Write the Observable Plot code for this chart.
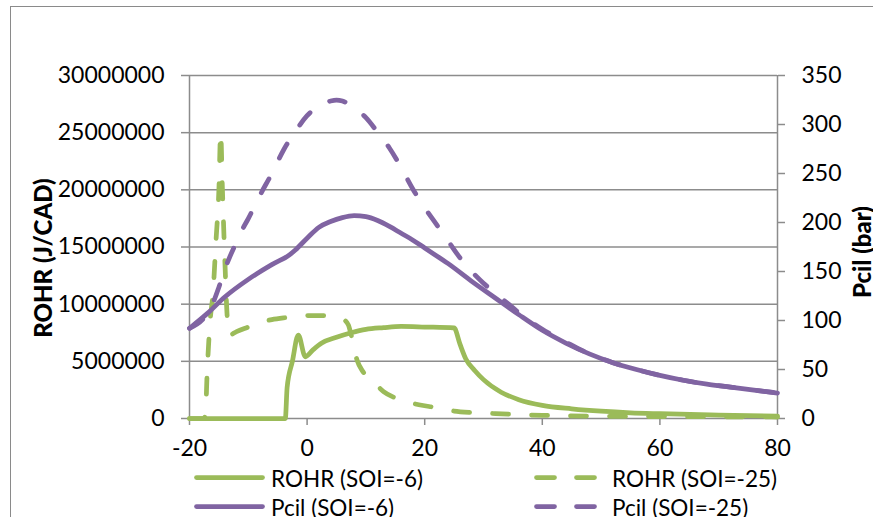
<!DOCTYPE html>
<html><head><meta charset="utf-8">
<script src="https://cdn.jsdelivr.net/npm/d3@7"></script>
<script src="https://cdn.jsdelivr.net/npm/@observablehq/plot@0.6"></script>
<style>
html,body{margin:0;padding:0;background:#fff;overflow:hidden;width:873px;height:517px;}
body{position:relative;font-family:Lato,"Open Sans",sans-serif;color:#000;}
#frame{position:absolute;left:10px;top:6px;width:900px;height:600px;border:1.5px solid #8a8a8a;box-sizing:border-box;}
#chart{position:absolute;left:0;top:0;}
.ytitle{position:absolute;font-weight:900;font-size:24px;white-space:nowrap;transform:translate(-50%,-50%) rotate(-90deg);}
.item{position:absolute;display:flex;align-items:center;font-size:22.5px;white-space:nowrap;transform:translateY(-50%);}
.item svg{display:block;}
</style></head>
<body>
<div id="frame"></div>
<div id="chart"></div>
<div class="ytitle" style="left:42px;top:258px;">ROHR (J/CAD)</div>
<div class="ytitle" style="left:861px;top:252px;">Pcil (bar)</div>
<div id="legend"></div>
<script>
// ---- data (crank angle in CAD) ----
const xTicks = [-20, 0, 20, 40, 60, 80];
const rohrTicks = [0, 5000000, 10000000, 15000000, 20000000, 25000000, 30000000];
const pcilTicks = [0, 50, 100, 150, 200, 250, 300, 350];

// ROHR (SOI=-6), J/CAD
const rohr6X = [-20, -3.7, -3.4, -2.5, -1.5, -0.3, 1, 2.5, 5, 7.5, 10, 13, 16, 20, 25, 26, 27, 28.5, 30, 33, 36, 40, 45, 50, 55, 60, 70, 80];
const rohr6Y = [0, 0, 2.7e6, 5.0e6, 7.3e6, 5.4e6, 6.0e6, 6.6e6, 7.1e6, 7.5e6, 7.8e6, 7.95e6, 8.05e6, 8.0e6, 7.92e6, 6.5e6, 5.2e6, 4.2e6, 3.4e6, 2.3e6, 1.65e6, 1.15e6, 0.85e6, 0.64e6, 0.5e6, 0.42e6, 0.3e6, 0.2e6];

// ROHR (SOI=-25), J/CAD
const rohr25X = [-20, -17.6, -17.3, -17, -16.5, -16, -15.5, -15, -14.7, -14.4, -14, -13.6, -13.2, -12, -10, -8, -6, -4, -2, 0, 2, 4, 6, 7, 7.5, 8.5, 9.5, 11, 13, 15, 17, 19, 22, 25, 28, 31, 35, 40, 50, 60, 70, 80];
const rohr25Y = [0, 0, 0.3e6, 4e6, 8.5e6, 11e6, 15.5e6, 20e6, 25e6, 20e6, 14e6, 9e6, 7.3e6, 7.6e6, 8.0e6, 8.4e6, 8.65e6, 8.8e6, 8.9e6, 9.0e6, 9.0e6, 8.95e6, 8.7e6, 8.2e6, 7.3e6, 5.1e6, 4.1e6, 3.4e6, 2.35e6, 1.8e6, 1.45e6, 1.2e6, 0.95e6, 0.65e6, 0.52e6, 0.45e6, 0.36e6, 0.28e6, 0.2e6, 0.17e6, 0.15e6, 0.13e6];

// Pcil (SOI=-6), bar
const pcil6X = [-20, -17, -14, -10, -6, -3, -2, 0, 2, 4, 6, 8, 10, 12, 14, 16, 18, 20, 24, 28, 32, 36, 40, 44, 48, 52, 56, 60, 64, 68, 72, 76, 80];
const pcil6Y = [92, 107, 124, 142, 157, 167, 172, 184, 195, 201, 205, 207, 206, 202, 196, 189, 182, 174, 158, 140, 123, 106, 90, 77, 66, 57, 50, 44, 39, 35, 32, 29, 26];

// Pcil (SOI=-25), bar
const pcil25X = [-20, -17, -16, -15, -14, -13, -12, -11, -10, -8, -6, -4, -2, 0, 2, 4, 5, 6, 8, 10, 12, 14, 16, 18, 20, 22, 24, 26, 28, 30, 32, 34, 36, 40, 44, 48, 52, 56, 60, 64, 68, 72, 76, 80];
const pcil25Y = [92, 107, 118, 134, 152, 167, 180, 193, 204, 228, 250, 274, 293, 309, 319, 324, 325, 324, 317, 307, 292, 276, 256, 234, 215, 198, 181, 164, 150, 138, 128, 118, 108, 91, 78, 66, 57, 50, 44, 39, 35, 32, 29, 26];

const seriesNames = ["ROHR (SOI=-6)", "ROHR (SOI=-25)", "Pcil (SOI=-6)", "Pcil (SOI=-25)"];
const green = "#9bbb59", purple = "#8064a2", gridColor = "#8c8c8c";

// secondary axis mapping: Pcil (bar) onto ROHR scale
const k = rohrTicks[rohrTicks.length - 1] / pcilTicks[pcilTicks.length - 1];
const pts = (X, Y, f = 1) => X.map((x, i) => ({x, y: Y[i] * f}));

const lineW = 4.75;
const dash = "16,23";

const chart = Plot.plot({
  width: 873, height: 462,
  marginLeft: 189, marginRight: 96, marginTop: 75, marginBottom: 44,
  x: {domain: [xTicks[0], xTicks[xTicks.length - 1]]},
  y: {domain: [rohrTicks[0], rohrTicks[rohrTicks.length - 1]]},
  style: {fontFamily: "Lato, 'Open Sans', sans-serif", fontSize: "23px", color: "#000", background: "transparent", overflow: "visible"},
  marks: [
    Plot.gridY(rohrTicks, {stroke: gridColor, strokeOpacity: 1, strokeWidth: 1.5}),
    Plot.ruleX([xTicks[0], xTicks[xTicks.length - 1]], {stroke: gridColor, strokeWidth: 1.5}),
    Plot.axisY(rohrTicks, {anchor: "left", tickSize: 8, tickPadding: 17, stroke: gridColor, strokeWidth: 1.5, fill: "#000", fontSize: 23, tickFormat: d => String(d), label: null}),
    Plot.axisY(pcilTicks.map(p => p * k), {anchor: "right", tickSize: 7, tickPadding: 17, stroke: gridColor, strokeWidth: 1.5, fill: "#000", fontSize: 23, tickFormat: v => String(Math.round(v / k)), label: null}),
    Plot.axisX(xTicks, {tickSize: 7, tickPadding: 14, stroke: gridColor, strokeWidth: 1.5, fill: "#000", fontSize: 23, tickFormat: d => String(d), label: null}),
    Plot.line(pts(rohr6X, rohr6Y), {x: "x", y: "y", stroke: green, strokeWidth: lineW, curve: "monotone-x", strokeLinejoin: "round", strokeLinecap: "round"}),
    Plot.line(pts(rohr25X, rohr25Y), {x: "x", y: "y", stroke: green, strokeWidth: lineW, curve: "monotone-x", strokeDasharray: dash, strokeLinejoin: "round", strokeLinecap: "round"}),
    Plot.line(pts(pcil6X, pcil6Y, k), {x: "x", y: "y", stroke: purple, strokeWidth: lineW, curve: "monotone-x", strokeLinejoin: "round", strokeLinecap: "round"}),
    Plot.line(pts(pcil25X, pcil25Y, k), {x: "x", y: "y", stroke: purple, strokeWidth: lineW, curve: "monotone-x", strokeDasharray: dash, strokeLinejoin: "round", strokeLinecap: "round"})
  ]
});
document.getElementById("chart").appendChild(chart);

// legend (HTML below the plot)
const legendItems = [
  {name: seriesNames[0], color: green, dashed: false, left: 194, top: 477.5},
  {name: seriesNames[1], color: green, dashed: true, left: 534, top: 477.5},
  {name: seriesNames[2], color: purple, dashed: false, left: 194, top: 506.5},
  {name: seriesNames[3], color: purple, dashed: true, left: 534, top: 506.5}
];
const legend = document.getElementById("legend");
for (const it of legendItems) {
  const div = document.createElement("div");
  div.className = "item";
  div.style.left = it.left + "px";
  div.style.top = it.top + "px";
  const w = it.dashed ? 63 : 71;
  const gap = it.dashed ? 15 : 6;
  div.innerHTML = `<svg width="${w}" height="10"><line x1="2.5" y1="5" x2="${w - 2.5}" y2="5" stroke="${it.color}" stroke-width="${lineW}" stroke-linecap="round" ${it.dashed ? 'stroke-dasharray="18,22"' : ""}/></svg><span style="margin-left:${gap}px">${it.name}</span>`;
  legend.appendChild(div);
}
</script>
</body></html>
